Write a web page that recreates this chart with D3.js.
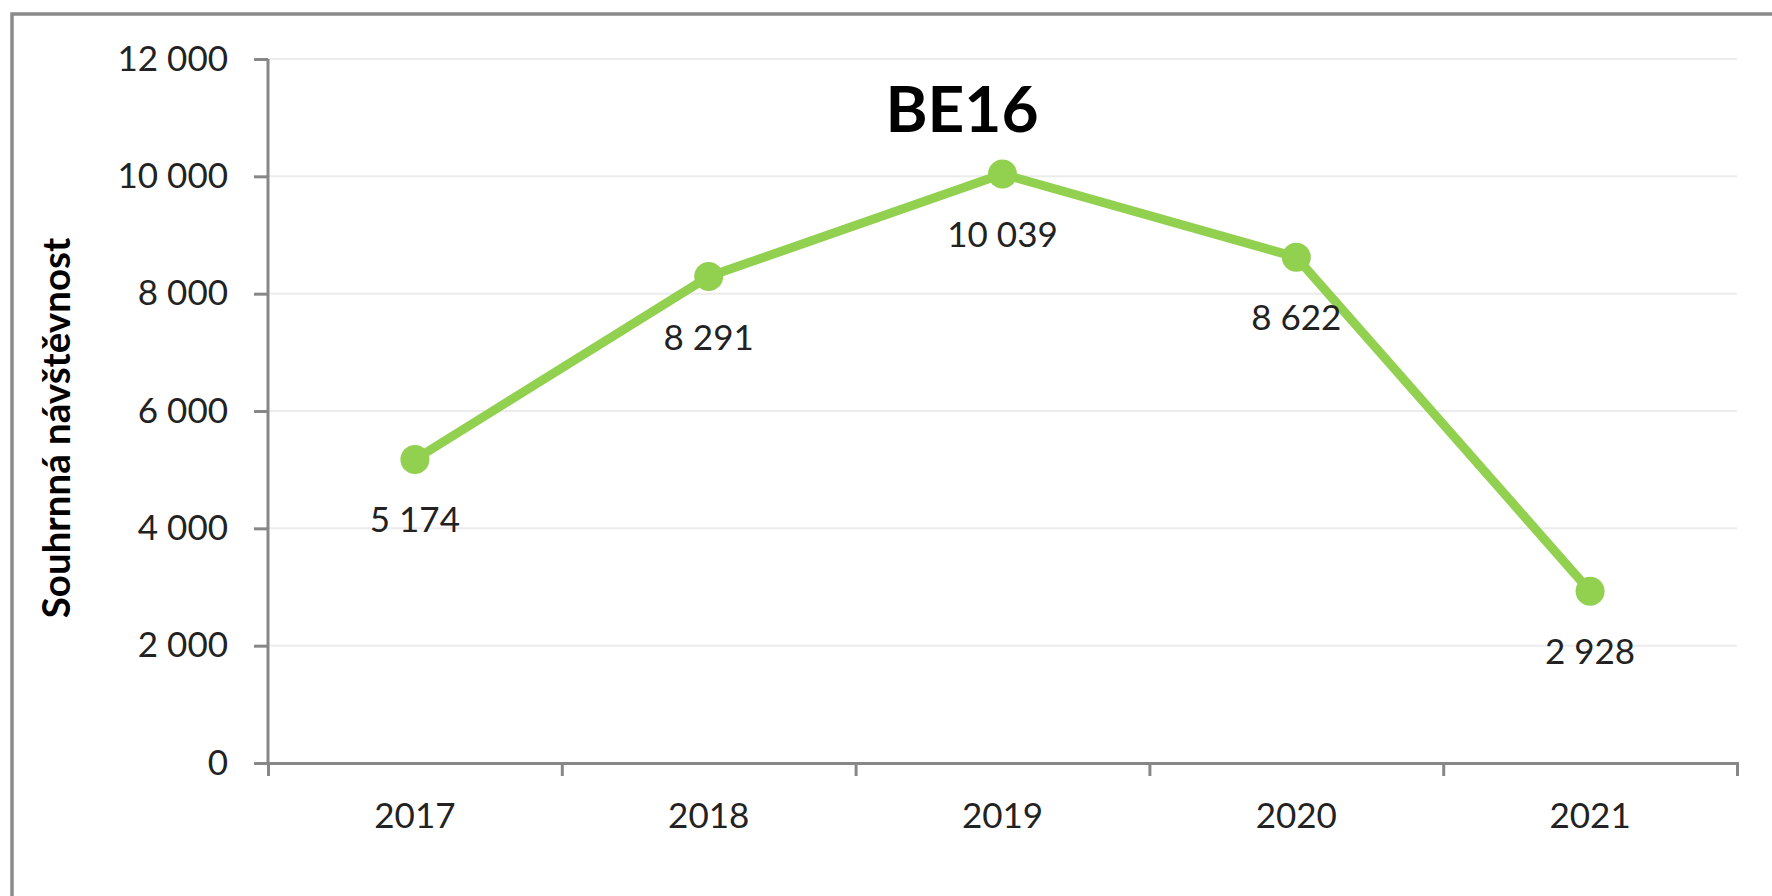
<!DOCTYPE html>
<html>
<head>
<meta charset="utf-8">
<script src="https://cdn.jsdelivr.net/npm/d3@7"></script>
<style>
  body { margin: 0; background: #fff; }
  text { font-family: Lato, "Open Sans", sans-serif; }
</style>
</head>
<body>
<div id="chart"></div>
<script>
// data
const years = ["2017", "2018", "2019", "2020", "2021"];
const visits = [5174, 8291, 10039, 8622, 2928];
const yTicks = [0, 2000, 4000, 6000, 8000, 10000, 12000];
const chartTitle = "BE16";
const yTitle = "Souhrnná návštěvnost";

const czFormat = d3.formatLocale({decimal: ",", thousands: " ", grouping: [3], currency: ["", " Kč"]}).format(",d");

const W = 1772, H = 896;
const margin = {top: 59, right: 35, bottom: 133, left: 268};
const width = W - margin.left - margin.right;
const height = H - margin.top - margin.bottom;

const svg = d3.select("#chart").append("svg")
    .attr("width", W)
    .attr("height", H);

// outer frame
svg.append("rect")
    .attr("x", 12).attr("y", 14)
    .attr("width", W + 20).attr("height", H + 20)
    .attr("fill", "none")
    .attr("stroke", "#8a8a8a")
    .attr("stroke-width", 3.5);

const g = svg.append("g")
    .attr("transform", `translate(${margin.left}, ${margin.top})`);

// scales
const x = d3.scaleBand().domain(years).range([0, width]);
const xEdges = d3.scaleLinear().domain([0, years.length]).range([0, width]);
const y = d3.scaleLinear().domain([0, 12000]).range([height, 0]);

// gridlines
g.append("g")
    .selectAll("line")
    .data(yTicks.filter(d => d > 0))
    .join("line")
    .attr("x1", 0).attr("x2", width)
    .attr("y1", d => y(d)).attr("y2", d => y(d))
    .attr("stroke", "#ececec")
    .attr("stroke-width", 2);

// y axis
const yAxis = g.append("g")
    .attr("class", "y-axis")
    .call(d3.axisLeft(y).tickValues(yTicks).tickSize(14).tickPadding(26).tickFormat(czFormat));

// x axis labels
const xAxis = g.append("g")
    .attr("class", "x-axis")
    .attr("transform", `translate(0, ${height})`)
    .call(d3.axisBottom(x).tickSize(0).tickPadding(40));

// x axis boundary ticks
const xTickAxis = g.append("g")
    .attr("transform", `translate(0, ${height})`)
    .call(d3.axisBottom(xEdges).tickValues(d3.range(years.length + 1)).tickSize(13).tickFormat(""));

[yAxis, xAxis, xTickAxis].forEach(a => {
    a.selectAll("path.domain").attr("stroke", "#878787").attr("stroke-width", 3);
    a.selectAll(".tick line").attr("stroke", "#878787").attr("stroke-width", 3);
    a.selectAll("text").attr("font-size", 35).attr("fill", "#222")
        .style("font-family", "Lato, 'Open Sans', sans-serif");
});
xAxis.select("path.domain").remove();
yAxis.select("path.domain").attr("d", `M0,${y(12000)}V${height}`);

// line
const line = d3.line()
    .x((d, i) => x(years[i]) + x.bandwidth() / 2)
    .y(d => y(d));

g.append("path")
    .datum(visits)
    .attr("d", line)
    .attr("fill", "none")
    .attr("stroke", "#92d050")
    .attr("stroke-width", 9)
    .attr("stroke-linejoin", "round");

g.selectAll(".dot")
    .data(visits)
    .join("circle")
    .attr("class", "dot")
    .attr("cx", (d, i) => x(years[i]) + x.bandwidth() / 2)
    .attr("cy", d => y(d))
    .attr("r", 14.5)
    .attr("fill", "#92d050");

// data labels
g.selectAll(".label")
    .data(visits)
    .join("text")
    .attr("class", "label")
    .attr("x", (d, i) => x(years[i]) + x.bandwidth() / 2)
    .attr("y", d => y(d) + 73)
    .attr("text-anchor", "middle")
    .attr("font-size", 35)
    .attr("fill", "#222")
    .text(d => czFormat(d));

// title
svg.append("text")
    .attr("x", 962)
    .attr("y", 132)
    .attr("text-anchor", "middle")
    .attr("font-size", 64)
    .attr("font-weight", "bold")
    .attr("fill", "#000")
    .text(chartTitle);

// y axis title
svg.append("text")
    .attr("transform", `translate(70, 428) rotate(-90)`)
    .attr("text-anchor", "middle")
    .attr("font-size", 38.5)
    .attr("font-weight", "bold")
    .attr("fill", "#000")
    .text(yTitle);
</script>
</body>
</html>
